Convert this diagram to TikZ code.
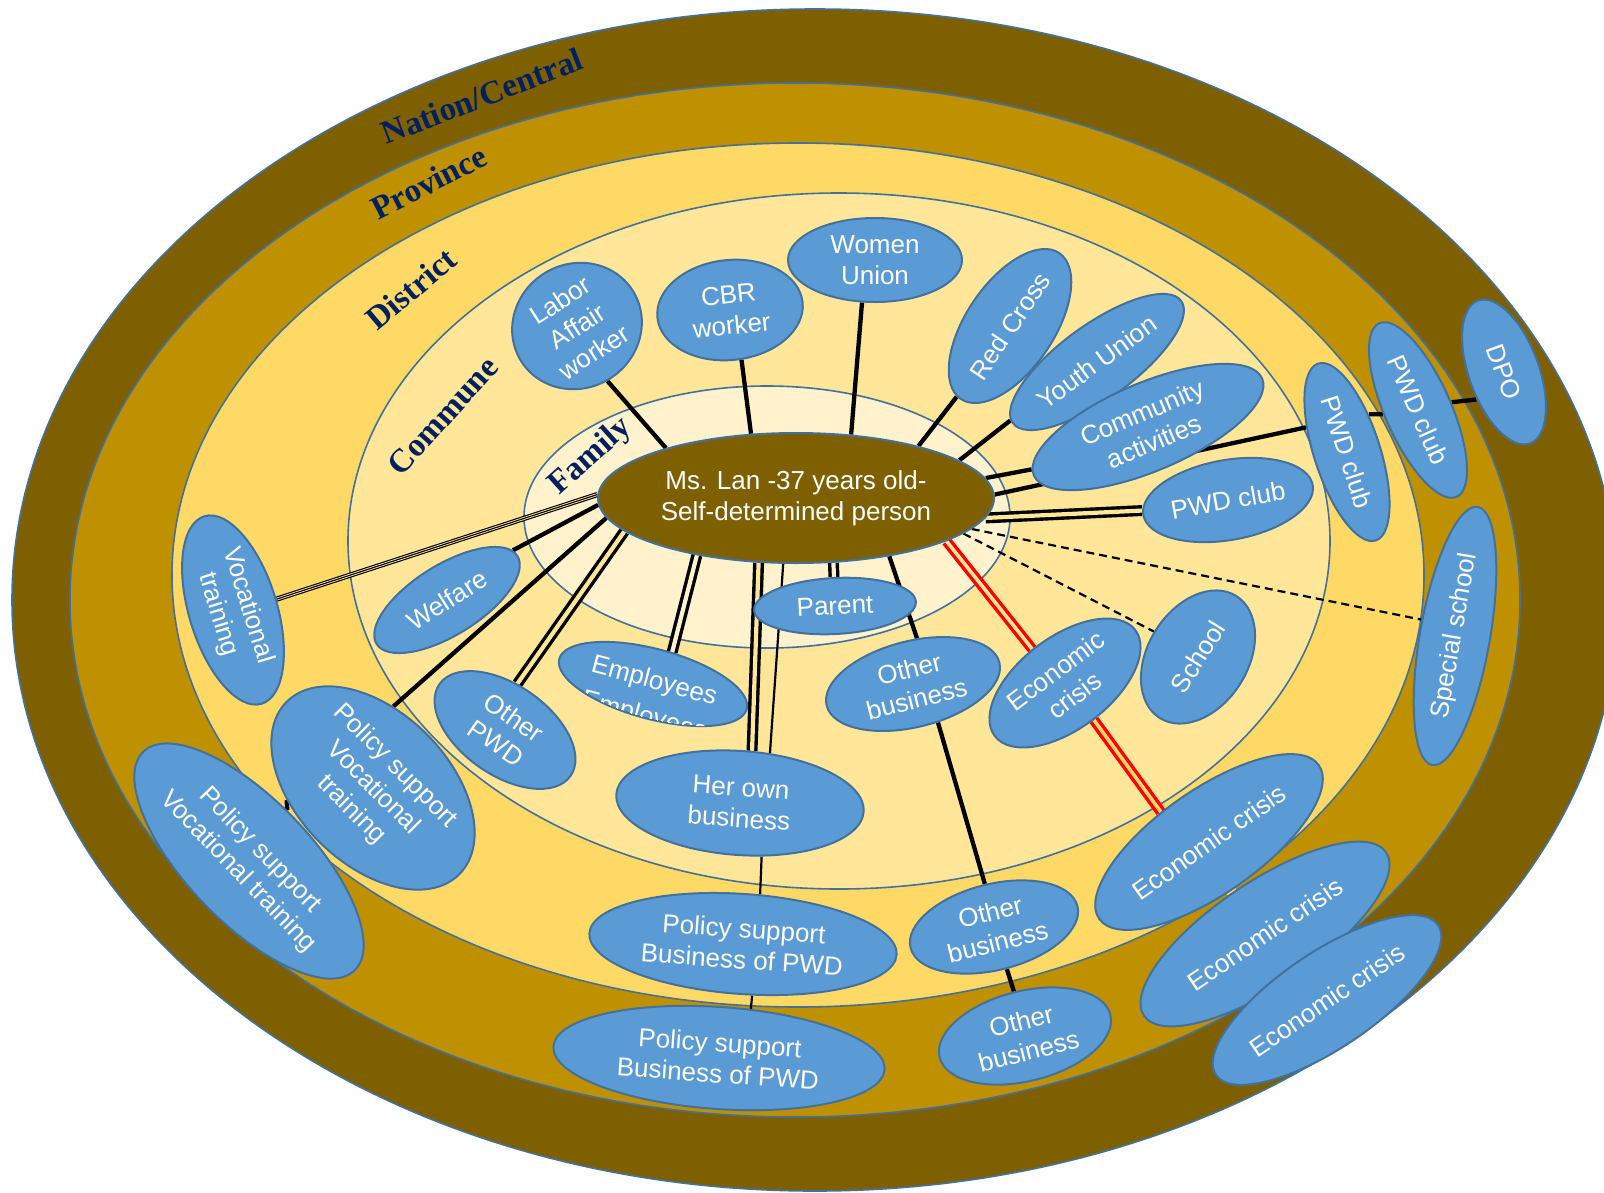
\documentclass[tikz,border=0pt]{standalone}
\usepackage{fontspec}
\setmainfont{Liberation Sans}
\newfontfamily\ringfont{Liberation Serif}
\usetikzlibrary{shapes.geometric,calc}

\definecolor{nationc}{HTML}{7F6000}
\definecolor{provc}{HTML}{BF9000}
\definecolor{distc}{HTML}{FFD966}
\definecolor{commc}{HTML}{FFE699}
\definecolor{famc}{HTML}{FFF2CC}
\definecolor{edgec}{HTML}{41719C}
\definecolor{bubc}{HTML}{5B9BD5}
\definecolor{navyc}{HTML}{002060}

\pgfdeclarelayer{rings}
\pgfdeclarelayer{links}
\pgfsetlayers{rings,links,main}

\tikzset{
  bubble/.style={ellipse, fill=bubc, draw=edgec, line width=2pt, inner sep=0pt},
  bubtext/.style={text=white, font=\fontsize{26}{31}\selectfont, align=center, inner sep=0pt},
  ringlabel/.style={text=navyc, font=\ringfont\bfseries\fontsize{33}{36}\selectfont, inner sep=0pt},
  ring/.style={draw=edgec, line width=1.6pt},
  link/.style={draw=black, line width=4.3pt},
  twin/.style={draw=black, line width=3.4pt, double=commc, double distance=4.2pt},
  redtwin/.style={draw=red, line width=3.4pt, double=commc, double distance=3.6pt},
  triple/.style={preaction={draw=black, line width=5.2pt}, draw=commc, line width=2.9pt,
                 postaction={draw=black, line width=1.1pt}},
  thinlink/.style={draw=black, line width=2.2pt},
  dashlink/.style={draw=black, line width=2.2pt, dash pattern=on 8pt off 5pt},
}

% one blue actor: name, centre, rotation, width, height, text
\newcommand\mkbubble[6]{%
  \node[bubble, minimum width=#4pt, minimum height=#5pt, rotate=#3] (#1) at (#2) {};
  \node[bubtext, rotate=#3] (#1-t) at (#1.center) {#6};
}

\begin{document}
\begin{tikzpicture}[x=1pt, y=-1pt]
\useasboundingbox (0,0) rectangle (1604,1192);

% nested levels
\begin{pgfonlayer}{rings}
  \fill[white] (0,0) rectangle (1604,1192);
  \filldraw[ring, fill=nationc] (815,600) ellipse [x radius=803, y radius=591];
  \filldraw[ring, fill=provc]   (795,600) ellipse [x radius=725, y radius=517];
  \filldraw[ring, fill=distc]   (798,575) ellipse [x radius=626, y radius=432];
  \filldraw[ring, fill=commc]   (839,541) ellipse [x radius=491, y radius=348];
  \filldraw[ring, fill=famc]    (767,517) ellipse [x radius=243, y radius=131];
\end{pgfonlayer}

\node[ringlabel, rotate=21] (lvlnation)   at (482,96)  {Nation/Central};
\node[ringlabel, rotate=27] (lvlprovince) at (429,182) {Province};
\node[ringlabel, rotate=40] (lvldistrict) at (411,289) {District};
\node[ringlabel, rotate=48] (lvlcommune)  at (443,416) {Commune};
\node[ringlabel, rotate=42] (lvlfamily)   at (591,457) {Family};

% the person in the middle
\node[ellipse, fill=nationc, draw=edgec, line width=2pt, inner sep=0pt,
      minimum width=396pt, minimum height=130pt] (lan) at (796,498) {};
\node[bubtext] (lan-t) at (lan.center) {Ms. Lan -37 years old-\\Self-determined person};

% actors
\mkbubble{labor}{577,326}{33}{132}{124}{Labor\\Affair\\worker}
\mkbubble{cbr}{730,310}{6}{146}{100}{CBR\\worker}
\mkbubble{women}{875,260}{0}{174}{84}{Women\\Union}
\mkbubble{redcross}{1010,326}{56}{176}{88}{Red Cross}
\mkbubble{youth}{1097,362}{36}{208}{74}{Youth Union}
\mkbubble{community}{1148,427}{23}{248}{88}{Community\\activities}
\mkbubble{pwdA}{1228,500}{10}{172}{80}{PWD club}
\mkbubble{pwdB}{1347,452}{-72}{186}{66}{PWD club}
\mkbubble{pwdC}{1418,410}{-66}{190}{66}{PWD club}
\mkbubble{dpo}{1504,372}{-70}{152}{70}{DPO}
\mkbubble{special}{1455,636}{80}{262}{70}{Special school}
\mkbubble{school}{1198,657}{58}{144}{100}{School}
\mkbubble{econA}{1065,683}{37}{176}{92}{Economic\\crisis}
\mkbubble{otherA}{913,684}{14}{178}{86}{Other\\business}
\mkbubble{parent}{835,606}{3}{162}{56}{Parent}
\mkbubble{otherpwd}{505,730}{-35}{160}{90}{Other\\PWD}
\mkbubble{welfare}{447,600}{32}{166}{70}{Welfare}
\mkbubble{voc}{233,610}{-73}{196}{88}{Vocational\\training}
\mkbubble{polvocA}{373,788}{-45}{244}{152}{Policy support\\Vocational\\training}
\mkbubble{polvocB}{249,861}{-46}{304}{124}{Policy support\\Vocational training}
\mkbubble{herown}{740,803}{-4}{248}{104}{Her own\\business}
\mkbubble{polbizA}{743,944}{-4}{308}{100}{Policy support\\Business of PWD}
\mkbubble{polbizB}{719,1058}{-4}{332}{102}{Policy support\\Business of PWD}
\mkbubble{otherB}{994,927}{14}{172}{86}{Other\\business}
\mkbubble{otherC}{1025,1036}{14}{176}{90}{Other\\business}
\mkbubble{econB}{1209,842}{35}{268}{104}{Economic crisis}
\mkbubble{econC}{1265,934}{34}{292}{104}{Economic crisis}
\mkbubble{econD}{1327,1000}{34}{268}{96}{Economic crisis}

% employees: the second line runs past the outline and is cut by it
\node[bubble, minimum width=194pt, minimum height=70pt, rotate=-15] (employees) at (653,684) {};
\begin{scope}
  \clip[rotate around={-15:(employees.center)}] (employees.center) ellipse [x radius=96, y radius=34];
  \node[bubtext, rotate=-15] (employees-t) at ($(employees.center)+(1,-2)$) {Employees};
  \node[bubtext, rotate=-15] (employees-u) at ($(employees.center)+(-9,33)$) {Employees};
\end{scope}

% ties
\begin{pgfonlayer}{links}
  \draw[link] (labor.-94) -- (lan.159);
  \draw[link] (cbr.-83) -- (lan.125);
  \draw[link] (women.-107) -- (lan.49);
  \draw[link] (redcross.177) -- (lan.23);
  \draw[link] (youth.178) -- (lan.13);
  \draw[link] (community.177) -- (lan.6);
  \draw[link] (lan.1) -- (pwdB.221);
  \draw[link] (pwdB.132) -- (pwdC.-107);
  \draw[link] (pwdC.79) -- (dpo.-65);
  \draw[twin] (lan.-6) -- (pwdA.177);
  \draw[dashlink] (lan.-12) -- (school.92);
  \draw[dashlink] (lan.-10) -- (special.74);
  \draw[redtwin] (lan.-16) -- (econA.97);
  \draw[redtwin, double=distc] (econA.-89) -- (econB.113);
  \draw[redtwin, double=distc] (econB.-106) -- (econC.89);
  \draw[redtwin, double=provc] (econC.-76) -- (econD.99);
  \draw[link] (lan.-32) -- (otherA.71);
  \draw[link] (otherA.-71) -- (otherB.88);
  \draw[link] (otherB.-87) -- (otherC.90);
  \draw[twin, double=famc] (lan.-60) -- (parent.89);
  \draw[twin] (lan.-120) -- (herown.81);
  \draw[thinlink] (lan.-101) -- (herown.63);
  \draw[thinlink] (herown.-64) -- (polbizA.75);
  \draw[thinlink] (polbizA.-76) -- (polbizB.61);
  \draw[twin, double=famc] (lan.-150) -- (employees.74);
  \draw[twin] (lan.-169) -- (otherpwd.110);
  \draw[link] (lan.-174) -- (polvocA.121);
  \draw[link] (polvocA.-127) -- (polvocB.99);
  \draw[link] (lan.-178) -- (welfare.5);
  \draw[triple] (lan.179) -- (voc.87);
\end{pgfonlayer}
\end{tikzpicture}
\end{document}
